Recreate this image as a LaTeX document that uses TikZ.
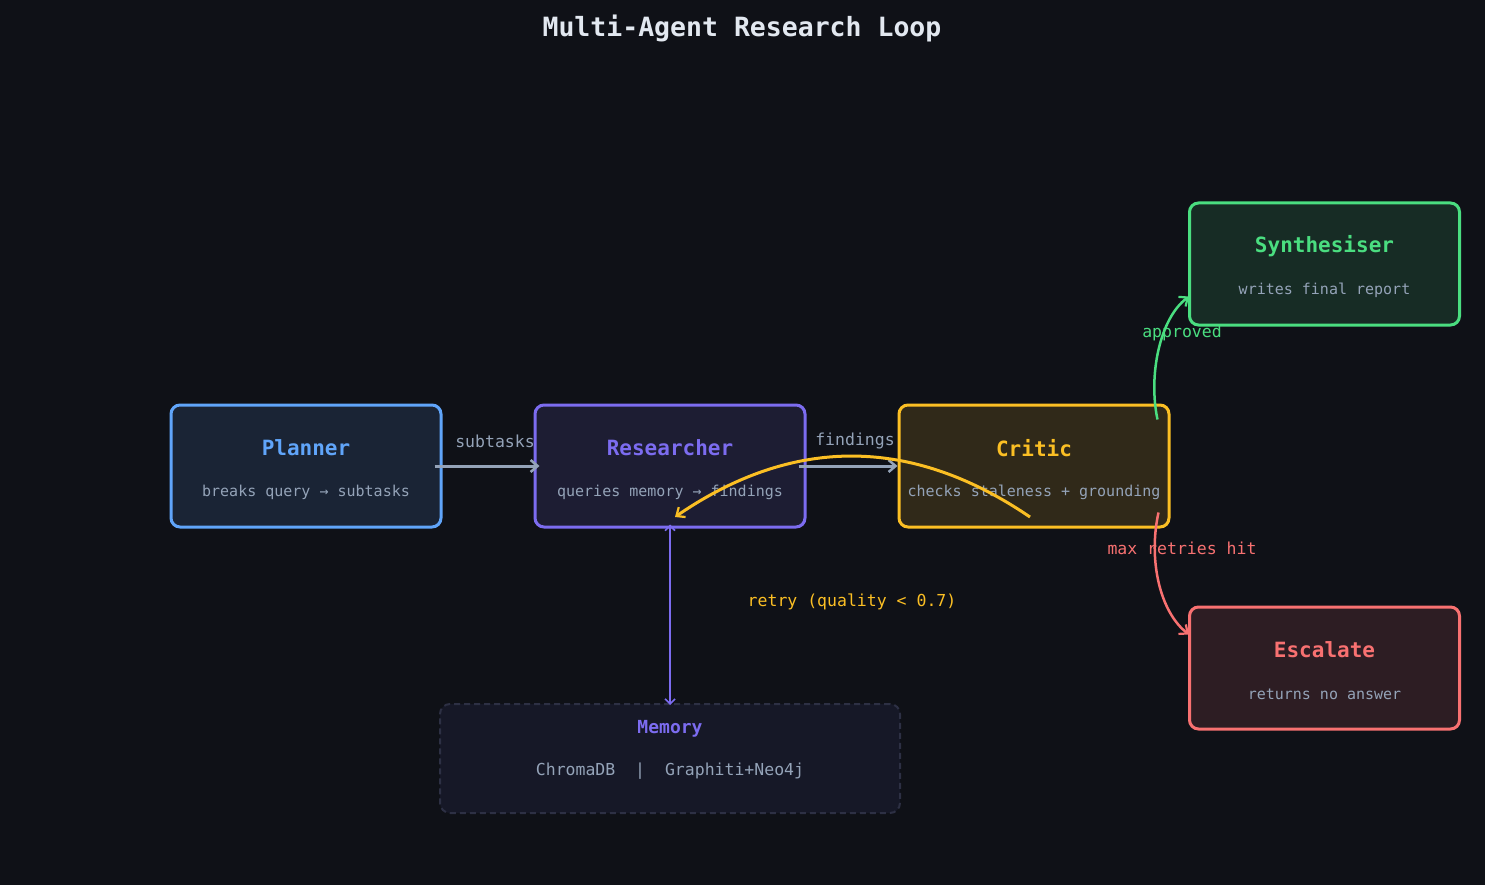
\documentclass[tikz,border=0pt]{standalone}
\usepackage{fontspec}
\setmainfont{DejaVu Sans Mono}
\usetikzlibrary{arrows.meta,calc}
\definecolor{bg}{HTML}{0F1117}
\definecolor{cblue}{HTML}{60A5FA}
\definecolor{cviolet}{HTML}{7C6CF0}
\definecolor{cyellow}{HTML}{FBBF24}
\definecolor{cgreen}{HTML}{4ADE80}
\definecolor{cred}{HTML}{F87171}
\definecolor{cgray}{HTML}{94A3B8}
\definecolor{ctitle}{HTML}{E2E8F0}
\definecolor{memfill}{HTML}{161827}
\definecolor{memline}{HTML}{2D3044}
\colorlet{fblue}{cblue!13!bg}
\colorlet{fviolet}{cviolet!13!bg}
\colorlet{fyellow}{cyellow!14!bg}
\colorlet{fgreen}{cgreen!13!bg}
\colorlet{fred}{cred!13!bg}
\tikzset{
  agent/.style={draw=#1, line width=3pt, rounded corners=9pt, minimum width=270pt, minimum height=122pt, inner sep=0pt},
  ttl/.style={font=\fontsize{21}{25}\selectfont\bfseries, text=#1},
  sub/.style={font=\fontsize{15}{18}\selectfont, text=cgray},
  elabel/.style={font=\fontsize{16.5}{20}\selectfont, text=#1},
  grayarrow/.style={draw=cgray, line width=3pt, -{Straight Barb[length=7pt,width=12pt,line width=2.5pt]}},
  curvearrow/.style={draw=#1, line width=2.5pt, -{Straight Barb[length=7pt,width=12pt,line width=2.2pt]}},
}
\begin{document}
\begin{tikzpicture}[x=1pt,y=-1pt]
\fill[bg] (0,0) rectangle (1485,885);
\useasboundingbox (0,0) rectangle (1485,885);

\node[font=\fontsize{26.5}{32}\selectfont\bfseries, text=ctitle] (title) at (742,28) {Multi-Agent Research Loop};

\node[agent=cblue, fill=fblue] (planner) at (306,466) {};
\node[agent=cviolet, fill=fviolet] (researcher) at (670,466) {};
\node[agent=cyellow, fill=fyellow] (critic) at (1034,466) {};
\node[agent=cgreen, fill=fgreen] (synth) at (1324.5,264) {};
\node[agent=cred, fill=fred] (escalate) at (1324.5,668) {};
\node[draw=memline, fill=memfill, dashed, dash pattern=on 6pt off 4pt, line width=2pt, rounded corners=10pt, minimum width=460pt, minimum height=109pt, inner sep=0pt] (memory) at (670,758.5) {};

\node[ttl=cblue] (plannerT) at ($(planner.center)+(0,-18)$) {Planner};
\node[sub] (plannerS) at ($(planner.center)+(0,26)$) {breaks query → subtasks};
\node[ttl=cviolet] (researcherT) at ($(researcher.center)+(0,-18)$) {Researcher};
\node[sub] (researcherS) at ($(researcher.center)+(0,26)$) {queries memory → findings};
\node[ttl=cyellow] (criticT) at ($(critic.center)+(0,-18)$) {Critic};
\node[sub] (criticS) at ($(critic.center)+(0,26)$) {checks staleness + grounding};
\node[ttl=cgreen] (synthT) at ($(synth.center)+(0,-18)$) {Synthesiser};
\node[sub] (synthS) at ($(synth.center)+(0,26)$) {writes final report};
\node[ttl=cred] (escalateT) at ($(escalate.center)+(0,-18)$) {Escalate};
\node[sub] (escalateS) at ($(escalate.center)+(0,26)$) {returns no answer};
\node[font=\fontsize{18}{22}\selectfont\bfseries, text=cviolet] (memoryT) at (670,729) {Memory};
\node[font=\fontsize{16.5}{20}\selectfont, text=cgray] (memoryS) at (670,771) {ChromaDB\ \ |\ \ Graphiti+Neo4j};

% straight arrows
\draw[grayarrow] ($(planner.east)+(-8,0)$) -- ($(researcher.west)+(6,0)$);
\node[elabel=cgray] (lsub) at (495,441) {subtasks};
\draw[grayarrow] ($(researcher.east)+(-8,0)$) -- ($(critic.west)+(0,0)$);
\node[elabel=cgray] (lfind) at (855,441) {findings};

% memory link
\draw[draw=cviolet, line width=1.8pt, {Straight Barb[length=5pt,width=10pt,line width=1.6pt]}-{Straight Barb[length=5pt,width=10pt,line width=1.6pt]}] ($(researcher.south)+(0,-4)$) -- ($(memory.north)+(0,2)$);

% retry curve
\draw[curvearrow=cyellow, line width=3pt] ($(critic.center)+(-4,51)$) .. controls (911,436) and (793,436) .. ($(researcher.center)+(5,51)$);
\node[elabel=cyellow] (lretry) at (852,602) {retry (quality < 0.7)};

% approved
\draw[curvearrow=cgreen] ($(critic.north east)+(-13,16)$) .. controls (1148,375) and (1160,318) .. ($(synth.south west)+(1,-30)$);
\node[elabel=cgreen] (lappr) at (1182,333) {approved};

% max retries
\draw[curvearrow=cred] ($(critic.south east)+(-12,-16)$) .. controls (1148,560) and (1160,612) .. ($(escalate.north west)+(1,29)$);
\node[elabel=cred] (lmax) at (1182,548) {max retries hit};
\end{tikzpicture}
\end{document}
